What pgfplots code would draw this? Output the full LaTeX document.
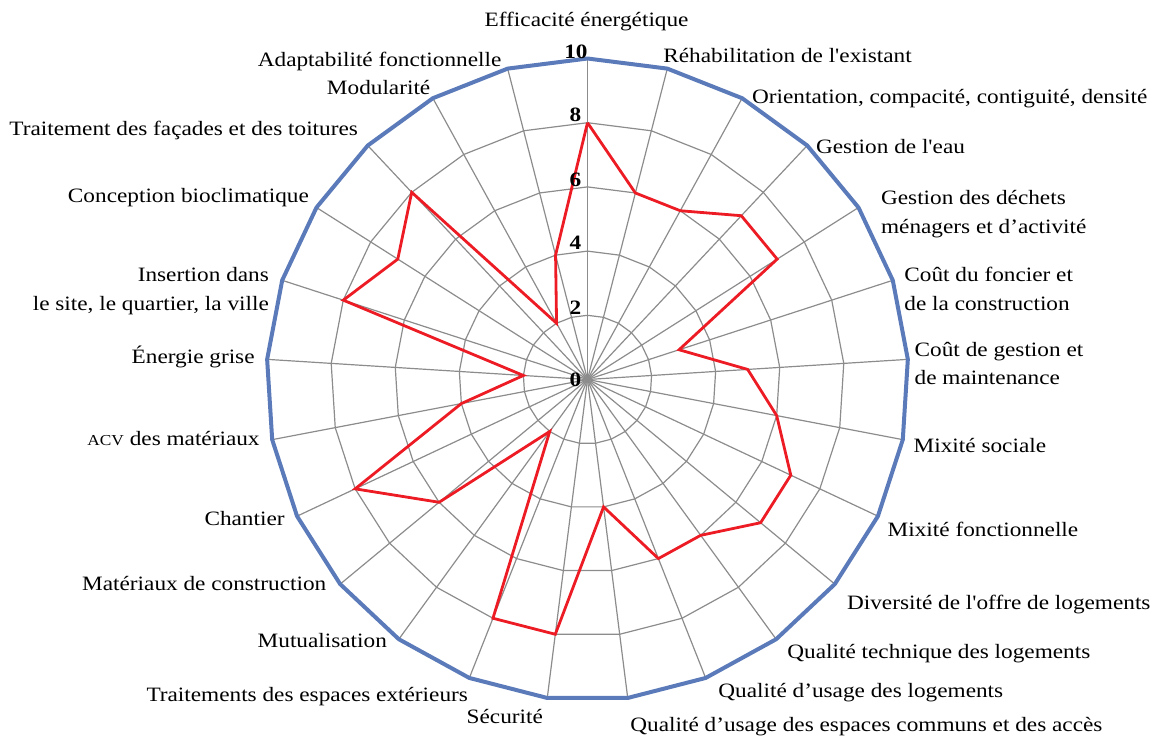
\documentclass[border=0pt]{standalone}
\usepackage{pgfplots}
\pgfplotsset{compat=1.18}
\usepackage{pgfplotstable}
\usepgfplotslibrary{polar}
\usepackage{fontspec}
\setmainfont{Liberation Serif}[FakeStretch=1.14]
\newfontfamily\labfont{Liberation Serif}[FakeStretch=1.14]
\definecolor{gridgray}{RGB}{140,140,140}
\definecolor{outerblue}{RGB}{90,122,185}
\definecolor{datared}{RGB}{237,28,36}

% angle (polar, degrees), value, outer
\pgfplotstableread{
a v m
90 8 10
75.6 6 10
61.2 6 10
46.8 7 10
32.4 7 10
18 3 10
3.6 5 10
-10.8 6 10
-25.2 7 10
-39.6 7 10
-54 6 10
-68.4 6 10
-82.8 4 10
-97.2 8 10
-111.6 8 10
-126 2 10
-140.4 6 10
-154.8 8 10
-169.2 4 10
-183.6 2 10
-198 8 10
-212.4 7 10
-226.8 8 10
-241.2 2 10
-255.6 4 10
-270 8 10
}\data

\begin{document}
\begin{tikzpicture}
\path[use as bounding box] (-293.75pt,-177.75pt) rectangle (287.25pt,189.75pt);
\begin{polaraxis}[
  at={(0,0)}, anchor=center,
  scale only axis, width=321pt, height=321pt,
  xmin=0, xmax=360, ymin=0, ymax=10,
  hide axis, clip=false,
]
\pgfplotsinvokeforeach{0,...,24}{
  \draw[gridgray, line width=0.6pt] (axis cs:0,0) -- (axis cs:{90-14.4*#1},10);
}
\pgfplotsinvokeforeach{2,4,6,8}{
  \addplot[gridgray, line width=0.6pt, no marks] table[x=a, y expr=#1] {\data};
}
\addplot[outerblue, line width=2pt, no marks, line join=round] table[x=a, y=m] {\data};
\addplot[datared, line width=1.4pt, no marks, line join=miter] table[x=a, y=v] {\data};
\end{polaraxis}

\begin{scope}[x=0.5pt, y=-0.5pt, shift={(-587.5,-379.5)},
  lab/.style={font=\labfont\fontsize{10.2}{14}\selectfont, inner sep=0pt},
  tk/.style={font=\labfont\fontsize{10.2}{14}\selectfont\bfseries, inner sep=0pt, anchor=center}]
\node[tk] at (576,51.5) {10};
\node[tk] at (575.5,115) {8};
\node[tk] at (575.5,180) {6};
\node[tk] at (575.5,243) {4};
\node[tk] at (575.5,307.5) {2};
\node[tk] at (575.5,380) {0};

\node[lab, anchor=base] at (586.6,26.7) {Efficacité énergétique};
\node[lab, anchor=base west] at (663,62.3) {Réhabilitation de l'existant};
\node[lab, anchor=base west] at (751.7,103.3) {Orientation, compacité, contiguité, densité};
\node[lab, anchor=base west] at (815.7,153) {Gestion de l'eau};
\node[lab, anchor=base west] at (880.7,204) {Gestion des déchets};
\node[lab, anchor=base west] at (880.7,233.3) {ménagers et d’activité};
\node[lab, anchor=base west] at (904,281.7) {Coût du foncier et};
\node[lab, anchor=base west] at (904,310) {de la construction};
\node[lab, anchor=base west] at (914.3,356.7) {Coût de gestion et};
\node[lab, anchor=base west] at (914.3,384.5) {de maintenance};
\node[lab, anchor=base west] at (913.3,452.7) {Mixité sociale};
\node[lab, anchor=base west] at (887.3,536.7) {Mixité fonctionnelle};
\node[lab, anchor=base west] at (846.7,609.3) {Diversité de l'offre de logements};
\node[lab, anchor=base west] at (787,658) {Qualité technique des logements};
\node[lab, anchor=base west] at (718,697.4) {Qualité d’usage des logements};
\node[lab, anchor=base west] at (630,731.5) {Qualité d’usage des espaces communs et des accès};
\node[lab, anchor=base east] at (543.3,723.3) {Sécurité};
\node[lab, anchor=base east] at (468.3,701.7) {Traitements des espaces extérieurs};
\node[lab, anchor=base east] at (387.3,647.3) {Mutualisation};
\node[lab, anchor=base east] at (326.7,590.7) {Matériaux de construction};
\node[lab, anchor=base east] at (285,525.7) {Chantier};
\node[lab, anchor=base east] at (260,445) {{\fontsize{7.6}{9}\selectfont ACV} des matériaux};
\node[lab, anchor=base east] at (255,363.3) {Énergie grise};
\node[lab, anchor=base east] at (269.3,281.7) {Insertion dans};
\node[lab, anchor=base east] at (269.3,310) {le site, le quartier, la ville};
\node[lab, anchor=base east] at (309.3,202.3) {Conception bioclimatique};
\node[lab, anchor=base east] at (358.3,135.7) {Traitement des façades et des toitures};
\node[lab, anchor=base east] at (430.7,94.3) {Modularité};
\node[lab, anchor=base east] at (501.7,66.7) {Adaptabilité fonctionnelle};
\end{scope}
\end{tikzpicture}
\end{document}
